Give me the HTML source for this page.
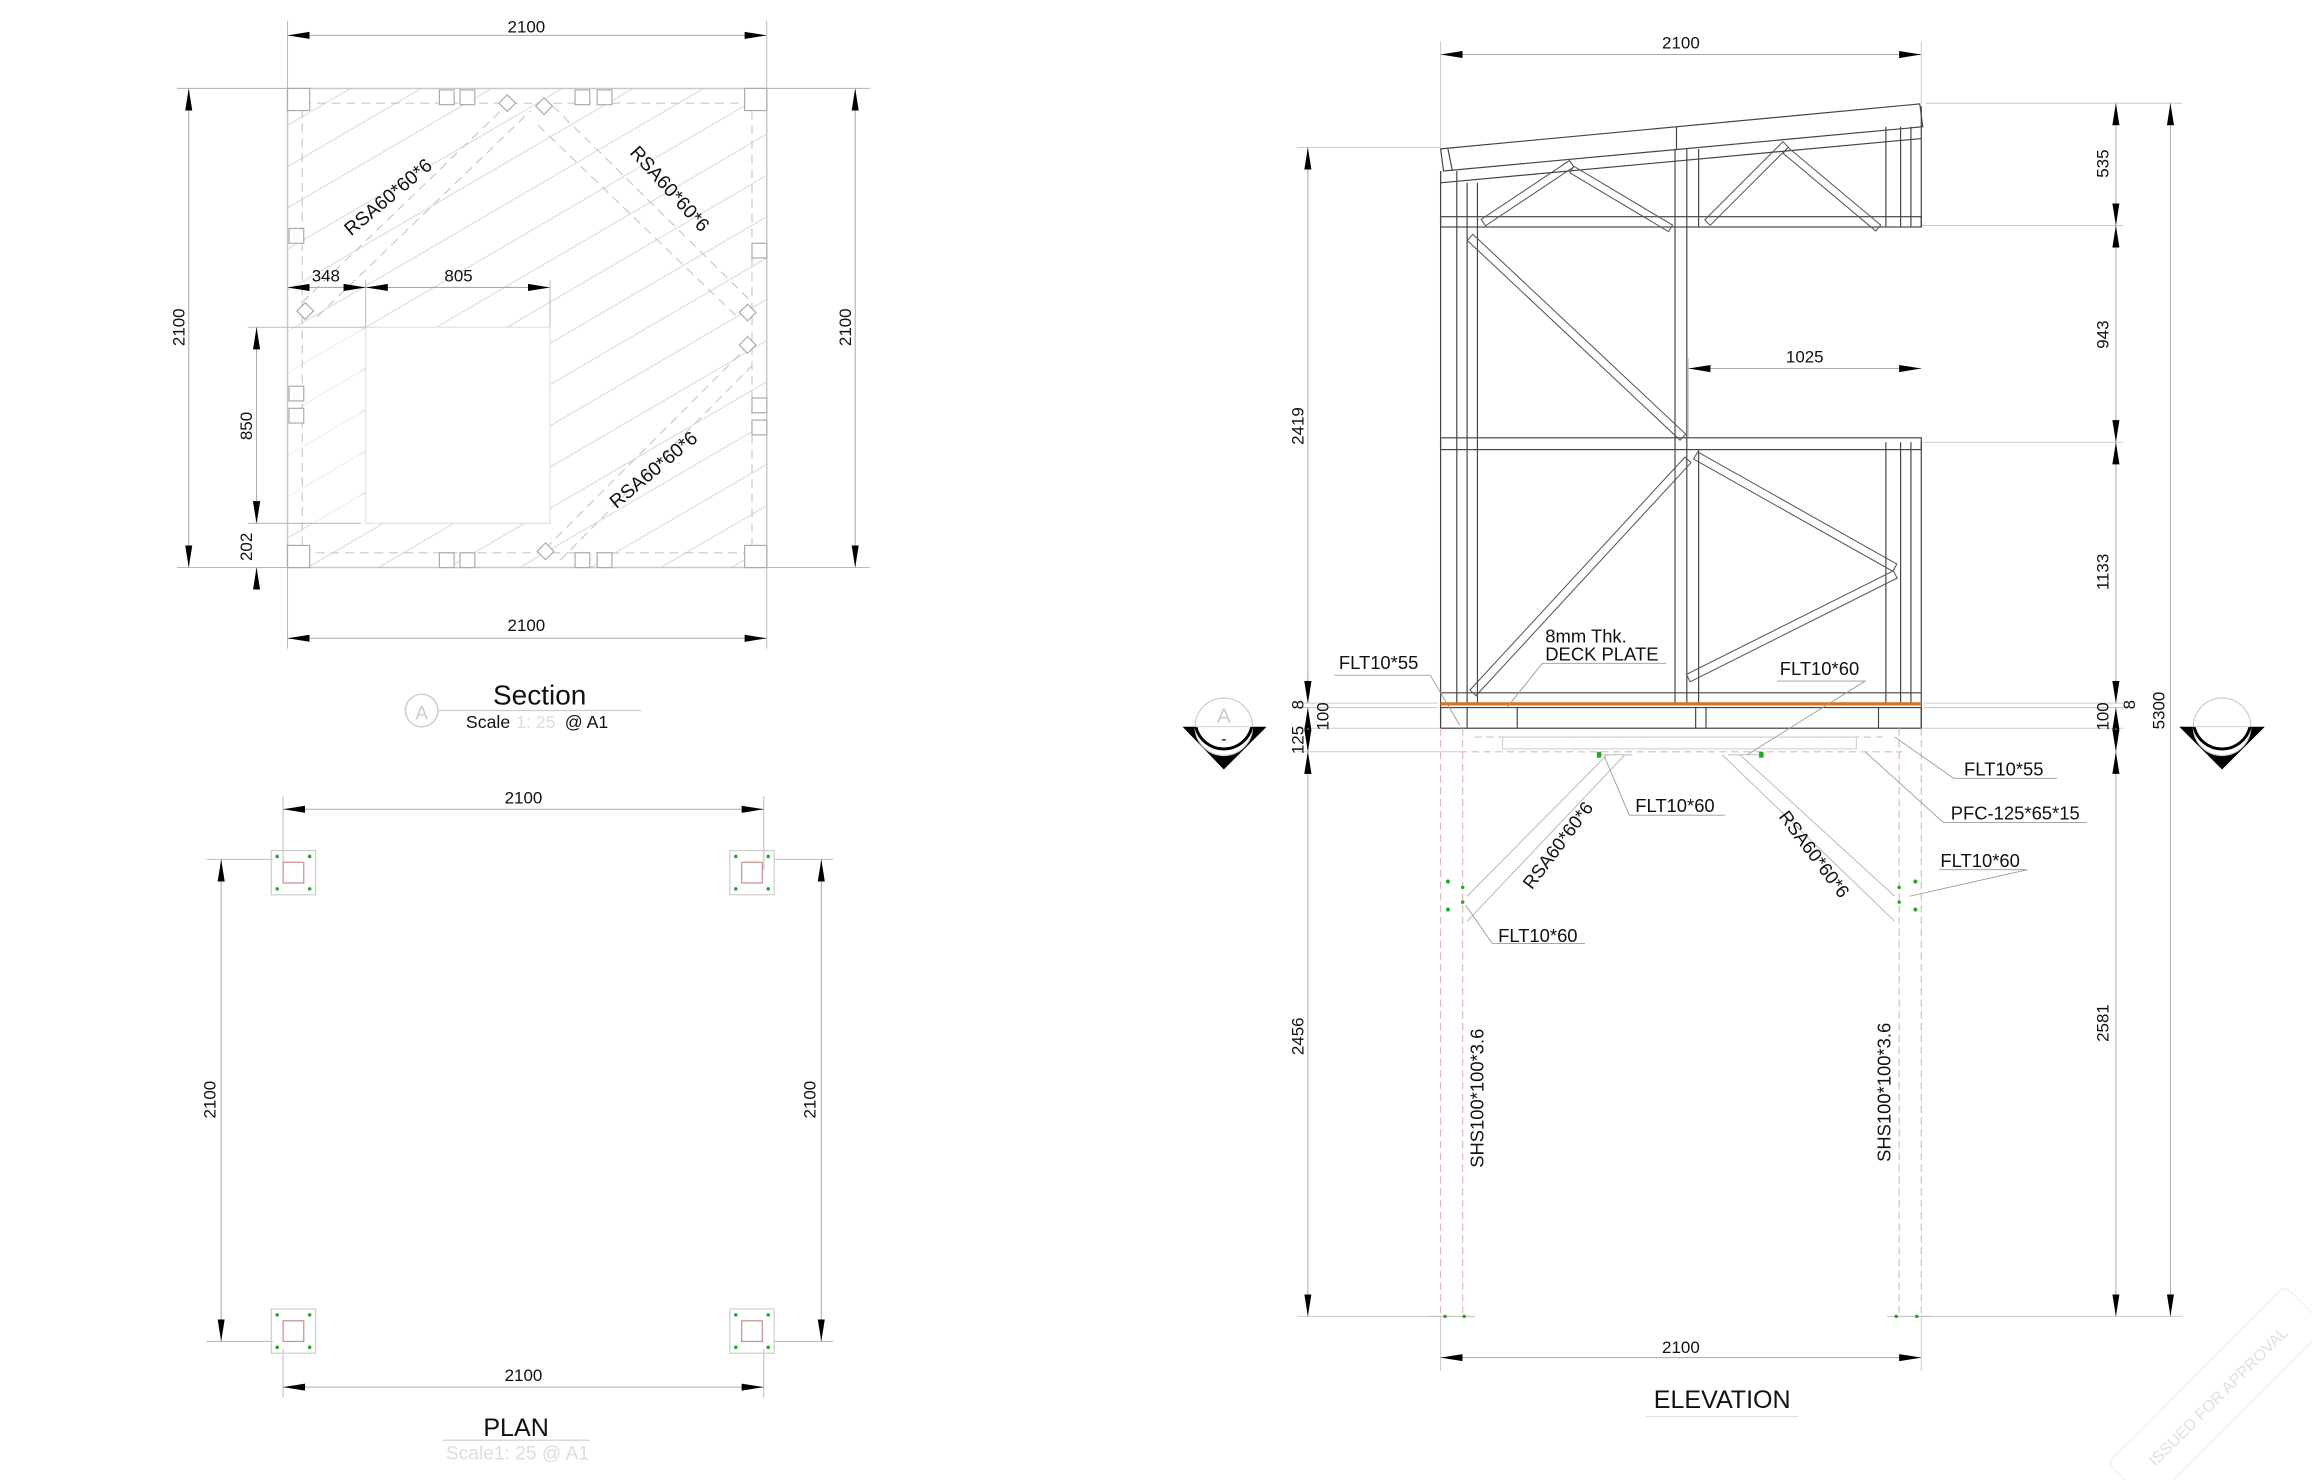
<!DOCTYPE html>
<html><head><meta charset="utf-8"><style>
html,body{margin:0;padding:0;background:#fff;}
svg{display:block}
text{font-family:"Liberation Sans",sans-serif;fill:#111}
</style></head><body>
<svg width="2312" height="1480" viewBox="0 0 1568 1004" preserveAspectRatio="none" xmlns="http://www.w3.org/2000/svg">
<defs>
<marker id="a" markerUnits="userSpaceOnUse" markerWidth="15" markerHeight="6" refX="15" refY="3" orient="auto-start-reverse"><path d="M0,0.6 L15,3 L0,5.4 z" fill="#000"/></marker>
<clipPath id="sq"><rect x="195" y="60" width="325" height="325"/></clipPath>
</defs>
<rect width="1568" height="1004" fill="#fff"/>

<!-- ================= SECTION ================= -->
<g clip-path="url(#sq)" stroke="#cfe8cf" stroke-width="0.8" fill="none">
<line x1="195" y1="85" x2="520" y2="-105"/><line x1="195" y1="113" x2="520" y2="-77"/>
<line x1="195" y1="141" x2="520" y2="-49"/><line x1="195" y1="169" x2="520" y2="-21"/>
<line x1="195" y1="197" x2="520" y2="7"/><line x1="195" y1="225" x2="520" y2="35"/>
<line x1="195" y1="253" x2="520" y2="63"/><line x1="195" y1="281" x2="520" y2="91"/>
<line x1="195" y1="309" x2="520" y2="119"/><line x1="195" y1="337" x2="520" y2="147"/>
<line x1="195" y1="365" x2="520" y2="175"/><line x1="195" y1="393" x2="520" y2="203"/>
<line x1="195" y1="421" x2="520" y2="231"/><line x1="195" y1="449" x2="520" y2="259"/>
<line x1="195" y1="477" x2="520" y2="287"/><line x1="195" y1="505" x2="520" y2="315"/>
<line x1="195" y1="533" x2="520" y2="343"/><line x1="195" y1="561" x2="520" y2="371"/>
</g>
<rect x="248" y="222" width="125" height="133" fill="#fff" stroke="#d8e8d8" stroke-width="0.8"/>
<rect x="195" y="222" width="50" height="133" fill="#fff" opacity="0.5"/>
<rect x="195" y="60" width="325" height="325" fill="none" stroke="#c8c8c8" stroke-width="1"/>
<g stroke="#c8c8c8" stroke-width="0.8" fill="none" stroke-dasharray="6,4">
<rect x="205" y="70" width="305" height="305"/>
<line x1="205" y1="205" x2="345" y2="70"/><line x1="215" y1="215" x2="360" y2="75"/>
<line x1="375" y1="72" x2="510" y2="205"/><line x1="365" y1="85" x2="500" y2="215"/>
<line x1="370" y1="372" x2="510" y2="232"/><line x1="380" y1="380" x2="510" y2="248"/>
</g>
<g fill="#fff" stroke="#aaa" stroke-width="0.8">
<rect x="195" y="60" width="15" height="15"/><rect x="505" y="60" width="15" height="15"/>
<rect x="195" y="370" width="15" height="15"/><rect x="505" y="370" width="15" height="15"/>
<rect x="298" y="61" width="10" height="10"/><rect x="312" y="61" width="10" height="10"/>
<rect x="390" y="61" width="10" height="10"/><rect x="405" y="61" width="10" height="10"/>
<rect x="298" y="375" width="10" height="10"/><rect x="312" y="375" width="10" height="10"/>
<rect x="390" y="375" width="10" height="10"/><rect x="405" y="375" width="10" height="10"/>
<rect x="196" y="155" width="10" height="10"/><rect x="196" y="262" width="10" height="10"/><rect x="196" y="277" width="10" height="10"/>
<rect x="510" y="165" width="10" height="10"/><rect x="510" y="270" width="10" height="10"/><rect x="510" y="285" width="10" height="10"/>
<rect x="340" y="66" width="8" height="8" transform="rotate(45 344 70)"/><rect x="365" y="68" width="8" height="8" transform="rotate(45 369 72)"/>
<rect x="203" y="207" width="8" height="8" transform="rotate(45 207 211)"/><rect x="503" y="208" width="8" height="8" transform="rotate(45 507 212)"/>
<rect x="503" y="230" width="8" height="8" transform="rotate(45 507 234)"/><rect x="366" y="370" width="8" height="8" transform="rotate(45 370 374)"/>
</g>
<!-- section dims -->
<g stroke="#bbb" stroke-width="0.7">
<line x1="195" y1="14" x2="195" y2="60"/><line x1="520" y1="14" x2="520" y2="60"/>
<line x1="120" y1="60" x2="195" y2="60"/><line x1="120" y1="385" x2="195" y2="385"/>
<line x1="520" y1="60" x2="590" y2="60"/><line x1="520" y1="385" x2="590" y2="385"/>
<line x1="195" y1="385" x2="195" y2="440"/><line x1="520" y1="385" x2="520" y2="440"/>
<line x1="248" y1="190" x2="248" y2="222"/><line x1="373" y1="190" x2="373" y2="222"/>
<line x1="168" y1="222" x2="248" y2="222"/><line x1="168" y1="355" x2="245" y2="355"/>
</g>
<g stroke="#aaa" stroke-width="0.7" marker-start="url(#a)" marker-end="url(#a)">
<line x1="195" y1="24" x2="520" y2="24"/>
<line x1="128" y1="60" x2="128" y2="385"/>
<line x1="580" y1="60" x2="580" y2="385"/>
<line x1="195" y1="433" x2="520" y2="433"/>
<line x1="195" y1="195" x2="248" y2="195"/>
<line x1="248" y1="195" x2="373" y2="195"/>
<line x1="174" y1="222" x2="174" y2="355"/>
</g>
<line x1="174" y1="340" x2="174" y2="355" stroke="#aaa" marker-end="url(#a)"/>
<line x1="174" y1="400" x2="174" y2="385" stroke="#aaa" marker-end="url(#a)"/>
<g font-size="11.5" text-anchor="middle">
<text x="357" y="22">2100</text><text x="357" y="428">2100</text>
<text x="221" y="191">348</text><text x="311" y="191">805</text>
<text transform="translate(125,222) rotate(-90)">2100</text>
<text transform="translate(577,222) rotate(-90)">2100</text>
<text transform="translate(171,289) rotate(-90)">850</text>
<text transform="translate(171,371) rotate(-90)">202</text>
</g>
<g font-size="13" text-anchor="middle">
<text transform="translate(266,137) rotate(-40)">RSA60*60*6</text>
<text transform="translate(451,131) rotate(48)">RSA60*60*6</text>
<text transform="translate(446,322) rotate(-40)">RSA60*60*6</text>
</g>
<circle cx="286" cy="482" r="11" fill="none" stroke="#ccc"/>
<text x="286" y="488" font-size="13" fill="#ccc" style="fill:#ccc" text-anchor="middle">A</text>
<line x1="297" y1="482" x2="435" y2="482" stroke="#ccc" stroke-width="0.8"/>
<text x="366" y="478" font-size="19" text-anchor="middle">Section</text>
<text x="316" y="494" font-size="12">Scale</text>
<text x="350" y="494" font-size="12" style="fill:#ddd">1: 25</text>
<text x="383" y="494" font-size="12">@ A1</text>

<!-- ================= PLAN ================= -->
<g stroke="#bbb" stroke-width="0.7">
<line x1="192" y1="540" x2="192" y2="590"/><line x1="518" y1="540" x2="518" y2="590"/>
<line x1="192" y1="915" x2="192" y2="948"/><line x1="518" y1="915" x2="518" y2="948"/>
<line x1="140" y1="583" x2="185" y2="583"/><line x1="140" y1="910" x2="185" y2="910"/>
<line x1="525" y1="583" x2="565" y2="583"/><line x1="525" y1="910" x2="565" y2="910"/>
</g>
<g stroke="#aaa" stroke-width="0.7" marker-start="url(#a)" marker-end="url(#a)">
<line x1="192" y1="549" x2="518" y2="549"/>
<line x1="192" y1="941" x2="518" y2="941"/>
<line x1="150" y1="583" x2="150" y2="910"/>
<line x1="557" y1="583" x2="557" y2="910"/>
</g>
<g font-size="11.5" text-anchor="middle">
<text x="355" y="545">2100</text><text x="355" y="937">2100</text>
<text transform="translate(146,746) rotate(-90)">2100</text>
<text transform="translate(553,746) rotate(-90)">2100</text>
</g>
<g id="pl">
<rect x="184" y="577" width="30" height="30" fill="none" stroke="#ccc" stroke-width="0.8"/>
<rect x="192" y="585" width="14" height="14" fill="none" stroke="#c99" stroke-width="0.9"/>
<g fill="#2a2"><circle cx="188" cy="581" r="1.2"/><circle cx="210" cy="581" r="1.2"/><circle cx="188" cy="603" r="1.2"/><circle cx="210" cy="603" r="1.2"/></g>
</g>
<use href="#pl" x="311" y="0"/><use href="#pl" x="0" y="311"/><use href="#pl" x="311" y="311"/>
<text x="350" y="974" font-size="17" text-anchor="middle">PLAN</text>
<line x1="300" y1="977" x2="400" y2="977" stroke="#ccc" stroke-width="0.8"/>
<text x="351" y="990" font-size="13" text-anchor="middle" style="fill:#ddd">Scale1: 25 @ A1</text>

<!-- ================= ELEVATION ================= -->
<!-- ext lines -->
<g stroke="#ccc" stroke-width="0.7">
<line x1="977" y1="28" x2="977" y2="100"/><line x1="1303" y1="28" x2="1303" y2="70"/>
<line x1="880" y1="100" x2="977" y2="100"/>
<line x1="1306" y1="70" x2="1480" y2="70"/>
<line x1="1303" y1="153" x2="1440" y2="153"/>
<line x1="1303" y1="300" x2="1440" y2="300"/>
<line x1="880" y1="477" x2="975" y2="477"/><line x1="1305" y1="477" x2="1440" y2="477"/>
<line x1="880" y1="480" x2="975" y2="480"/><line x1="1305" y1="480" x2="1440" y2="480"/>
<line x1="880" y1="494" x2="1440" y2="494"/>
<line x1="880" y1="510" x2="990" y2="510"/>
<line x1="880" y1="893" x2="975" y2="893"/><line x1="1305" y1="893" x2="1480" y2="893"/>
<line x1="977" y1="893" x2="977" y2="930"/><line x1="1303" y1="893" x2="1303" y2="930"/>
<line x1="1145" y1="243" x2="1145" y2="297"/>
</g>
<!-- roof -->
<g stroke="#444" stroke-width="0.8" fill="none">
<polygon points="977,101 1302,70.5 1304,86 979,116"/>
<line x1="977" y1="124" x2="1303" y2="94"/>
<line x1="977" y1="124" x2="977" y2="116"/>
<line x1="982" y1="101" x2="985" y2="116" />
<line x1="1137" y1="86" x2="1137" y2="101"/>
<!-- truss chord -->
<rect x="977" y="147" width="326" height="7"/>
<!-- columns -->
<line x1="977" y1="116" x2="977" y2="494"/><line x1="988" y1="116" x2="988" y2="477"/>
<line x1="995" y1="124" x2="995" y2="477"/><line x1="1002" y1="124" x2="1002" y2="477"/>
<line x1="1136" y1="101" x2="1136" y2="477"/><line x1="1144" y1="101" x2="1144" y2="477"/>
<line x1="1152" y1="101" x2="1152" y2="154"/>
<line x1="1279" y1="86" x2="1279" y2="154"/><line x1="1289" y1="86" x2="1289" y2="154"/>
<line x1="1296" y1="86" x2="1296" y2="154"/><line x1="1303" y1="72" x2="1303" y2="154"/>
<line x1="1279" y1="300" x2="1279" y2="477"/><line x1="1289" y1="300" x2="1289" y2="477"/>
<line x1="1296" y1="300" x2="1296" y2="477"/><line x1="1303" y1="300" x2="1303" y2="494"/>
<line x1="1152" y1="305" x2="1152" y2="477"/>
<!-- mid rail -->
<rect x="977" y="297" width="326" height="8"/>
<line x1="977" y1="470" x2="1303" y2="470"/>
<!-- beam band -->
<rect x="977" y="480" width="326" height="14"/>
<line x1="995" y1="480" x2="995" y2="494"/><line x1="1029" y1="480" x2="1029" y2="494"/>
<line x1="1150" y1="480" x2="1150" y2="494"/><line x1="1157" y1="480" x2="1157" y2="494"/>
<line x1="1274" y1="480" x2="1274" y2="494"/>
</g>
<!-- truss braces -->
<g fill="none" stroke="#555" stroke-width="0.7">
<rect x="0" y="-2.6" width="72" height="5.2" transform="translate(1006,151) rotate(-33.7)"/>
<rect x="0" y="-2.6" width="78" height="5.2" transform="translate(1066,115) rotate(30.8)"/>
<rect x="0" y="-2.6" width="75" height="5.2" transform="translate(1158,151) rotate(-45)"/>
<rect x="0" y="-2.6" width="82" height="5.2" transform="translate(1211,102) rotate(40)"/>
<rect x="0" y="-2.8" width="198" height="5.6" transform="translate(997,161) rotate(43.2)"/>
<rect x="0" y="-2.8" width="215" height="5.6" transform="translate(999,470) rotate(-47.3)"/>
<rect x="0" y="-2.8" width="155" height="5.6" transform="translate(1150,309) rotate(29.4)"/>
<rect x="0" y="-2.8" width="157" height="5.6" transform="translate(1145,460) rotate(-26.6)"/>
</g>
<!-- deck -->
<line x1="977" y1="477.5" x2="1303" y2="477.5" stroke="#d9731f" stroke-width="2.2"/>
<!-- PFC & legs -->
<g stroke="#e2b8b8" stroke-width="0.8" fill="none" stroke-dasharray="5,3">
<line x1="990" y1="510" x2="1290" y2="510"/>
<line x1="1000" y1="500" x2="1280" y2="500"/>
<line x1="977" y1="494" x2="977" y2="893"/><line x1="992" y1="494" x2="992" y2="893"/>
<line x1="1288" y1="494" x2="1288" y2="893"/><line x1="1303" y1="494" x2="1303" y2="893"/>
</g>
<rect x="1019" y="500" width="240" height="8" fill="none" stroke="#ccc" stroke-width="0.7"/>
<g stroke="#bbb" stroke-width="0.7" fill="none">
<line x1="1090" y1="512" x2="995" y2="608"/><line x1="1102" y1="512" x2="995" y2="625"/>
<line x1="1180" y1="512" x2="1285" y2="608"/><line x1="1168" y1="512" x2="1285" y2="625"/>
<line x1="1083" y1="512" x2="1107" y2="512"/><line x1="1172" y1="512" x2="1197" y2="512"/>
<line x1="970" y1="893" x2="1000" y2="893"/><line x1="1280" y1="893" x2="1310" y2="893"/>
</g>
<g fill="#2a2">
<rect x="1083" y="510" width="3" height="4"/><rect x="1193" y="510" width="3" height="4"/>
<circle cx="982" cy="598" r="1.4"/><circle cx="982" cy="617" r="1.4"/><circle cx="992" cy="602" r="1.2"/><circle cx="992" cy="612" r="1.2"/>
<circle cx="1299" cy="598" r="1.4"/><circle cx="1299" cy="617" r="1.4"/><circle cx="1288" cy="602" r="1.2"/><circle cx="1288" cy="612" r="1.2"/>
<circle cx="980" cy="893" r="1.2"/><circle cx="993" cy="893" r="1.2"/><circle cx="1286" cy="893" r="1.2"/><circle cx="1300" cy="893" r="1.2"/>
</g>
<!-- leaders -->
<g stroke="#999" stroke-width="0.6" fill="none">
<polyline points="905,458 970,458 990,492"/>
<polyline points="1130,450 1046,450 1022,480"/>
<polyline points="1205,462 1265,462 1185,512"/>
<polyline points="1325,528 1395,528"/><line x1="1325" y1="528" x2="1285" y2="500"/>
<polyline points="1318,558 1415,558"/><line x1="1318" y1="558" x2="1265" y2="510"/>
<polyline points="1315,590 1375,590 1295,608"/>
<polyline points="1105,553 1170,553"/><line x1="1105" y1="553" x2="1088" y2="513"/>
<polyline points="1012,640 1075,640"/><line x1="1012" y1="640" x2="994" y2="614"/>
</g>
<g font-size="12.5">
<text x="908" y="454">FLT10*55</text>
<text x="1048" y="436">8mm Thk.</text>
<text x="1048" y="448">DECK PLATE</text>
<text x="1207" y="458">FLT10*60</text>
<text x="1332" y="526">FLT10*55</text>
<text x="1323" y="556">PFC-125*65*15</text>
<text x="1316" y="588">FLT10*60</text>
<text x="1109" y="551">FLT10*60</text>
<text x="1016" y="639">FLT10*60</text>
<text transform="translate(1060,576) rotate(-53)" text-anchor="middle">RSA60*60*6</text>
<text transform="translate(1227,582) rotate(53)" text-anchor="middle">RSA60*60*6</text>
<text transform="translate(1006,745) rotate(-90)" text-anchor="middle">SHS100*100*3.6</text>
<text transform="translate(1282,741) rotate(-90)" text-anchor="middle">SHS100*100*3.6</text>
</g>
<!-- elevation dims -->
<g stroke="#aaa" stroke-width="0.7" marker-start="url(#a)" marker-end="url(#a)">
<line x1="977" y1="37" x2="1303" y2="37"/>
<line x1="1145" y1="250" x2="1303" y2="250"/>
<line x1="977" y1="921" x2="1303" y2="921"/>
<line x1="887" y1="100" x2="887" y2="477"/>
<line x1="887" y1="510" x2="887" y2="893"/>
<line x1="1435" y1="70" x2="1435" y2="153"/>
<line x1="1435" y1="153" x2="1435" y2="300"/>
<line x1="1435" y1="300" x2="1435" y2="477"/>
<line x1="1435" y1="510" x2="1435" y2="893"/>
<line x1="1472" y1="70" x2="1472" y2="893"/>
</g>
<g stroke="#aaa" stroke-width="0.7">
<line x1="887" y1="460" x2="887" y2="477" marker-end="url(#a)"/>
<line x1="887" y1="494" x2="887" y2="480" marker-end="url(#a)"/>
<line x1="887" y1="494" x2="887" y2="510" marker-end="url(#a)"/>
<line x1="887" y1="525" x2="887" y2="510" marker-end="url(#a)"/>
<line x1="1435" y1="494" x2="1435" y2="480" marker-end="url(#a)"/>
<line x1="1435" y1="494" x2="1435" y2="510" marker-end="url(#a)"/>
</g>
<g font-size="11.5" text-anchor="middle">
<text x="1140" y="33">2100</text>
<text x="1224" y="246">1025</text>
<text x="1140" y="918">2100</text>
<text transform="translate(884,289) rotate(-90)">2419</text>
<text transform="translate(884,703) rotate(-90)">2456</text>
<text transform="translate(884,478) rotate(-90)">8</text>
<text transform="translate(884,502) rotate(-90)">125</text>
<text transform="translate(901,486) rotate(-90)">100</text>
<text transform="translate(1430,111) rotate(-90)">535</text>
<text transform="translate(1430,227) rotate(-90)">943</text>
<text transform="translate(1430,388) rotate(-90)">1133</text>
<text transform="translate(1430,486) rotate(-90)">100</text>
<text transform="translate(1448,478) rotate(-90)">8</text>
<text transform="translate(1430,694) rotate(-90)">2581</text>
<text transform="translate(1468,482) rotate(-90)">5300</text>
</g>
<text x="1168" y="955" font-size="17" text-anchor="middle">ELEVATION</text>
<line x1="1116" y1="961" x2="1220" y2="961" stroke="#ddd" stroke-width="0.7"/>

<!-- section markers -->
<g>
<polygon points="802,493 859,493 830,522" fill="#000"/>
<circle cx="830" cy="493" r="19.5" fill="#fff" stroke="#ccc" stroke-width="0.8"/>
<path d="M811,493 A19.5,19.5 0 0 0 849,493" fill="none" stroke="#000" stroke-width="2"/>
<line x1="811" y1="493" x2="849" y2="493" stroke="#ccc" stroke-width="0.6"/>
<text x="830" y="490" font-size="14" text-anchor="middle" style="fill:#ccc">A</text>
<text x="830" y="505" font-size="11" text-anchor="middle">-</text>
</g>
<g>
<polygon points="1478,493 1536,493 1507,522" fill="#000"/>
<circle cx="1507" cy="493" r="19.5" fill="#fff" stroke="#ccc" stroke-width="0.8"/>
<path d="M1488,493 A19.5,19.5 0 0 0 1526,493" fill="none" stroke="#000" stroke-width="2"/>
<line x1="1488" y1="493" x2="1526" y2="493" stroke="#ccc" stroke-width="0.6"/>
</g>

<!-- stamp -->
<g transform="translate(1500,950) rotate(-45)">
<rect x="-80" y="-20" width="170" height="40" rx="5" fill="none" stroke="#eee" stroke-width="0.8"/>
<text x="5" y="5" font-size="11" text-anchor="middle" style="fill:#e6dede">ISSUED FOR APPROVAL</text>
</g>
</svg>
</body></html>
